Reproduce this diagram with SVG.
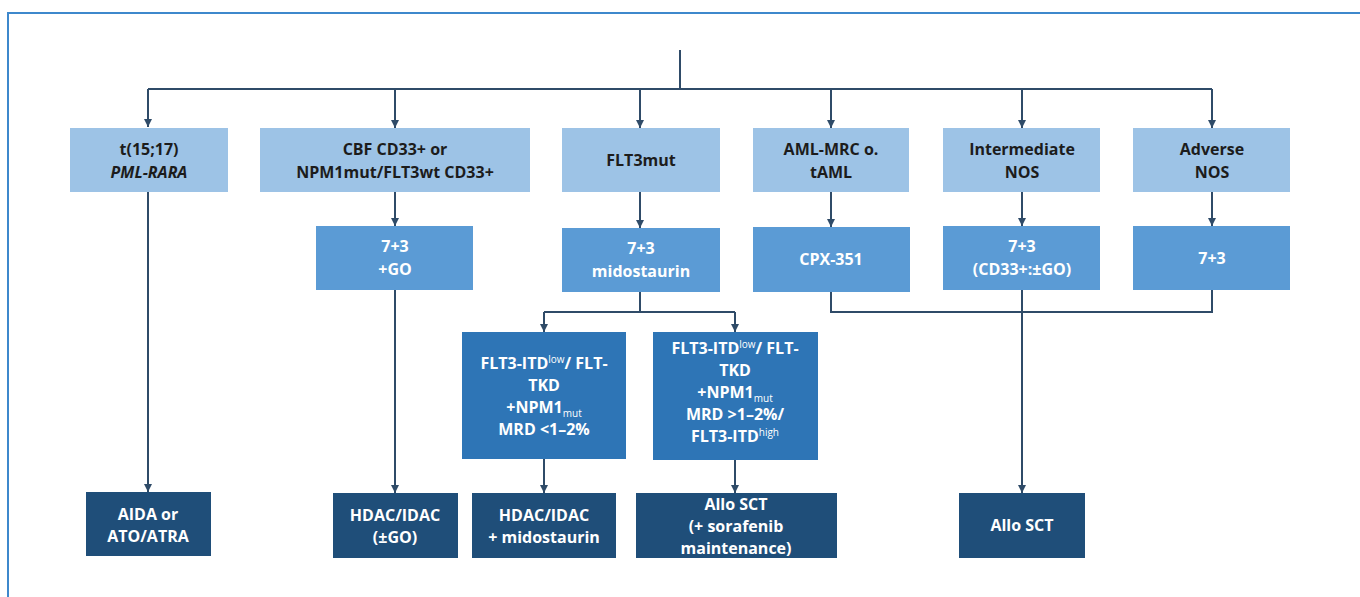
<svg xmlns="http://www.w3.org/2000/svg" width="1360" height="597" viewBox="0 0 1360 597">
<style>
.t{font-family:"Open Sans","Liberation Sans",sans-serif;font-weight:700;font-size:16px;text-anchor:middle}
.dk{fill:#1c1c1c}
.wh{fill:#ffffff}
.b1{fill:#9DC3E6}
.b2{fill:#5B9BD5}
.b3{fill:#2E75B6}
.b4{fill:#1F4E79}
.ln{fill:none;stroke:#2F4B68;stroke-width:2}
.sup{font-size:10px;font-weight:400}
</style>
<defs>
<marker id="ah" viewBox="0 0 10 10" refX="10" refY="5" markerWidth="8" markerHeight="9" markerUnits="userSpaceOnUse" orient="auto">
<path d="M0,0 L10,5 L0,10 z" fill="#2F4B68"/>
</marker>
</defs>
<rect x="0" y="0" width="1360" height="597" fill="#ffffff"/>
<path d="M8,597 V13 H1360" fill="none" stroke="#3E88CC" stroke-width="2"/>

<g id="connectors">
<path class="ln" d="M680,50 V89"/>
<path class="ln" d="M148,89 H1212"/>
<path class="ln" d="M148,89 V127" marker-end="url(#ah)"/>
<path class="ln" d="M395,89 V128" marker-end="url(#ah)"/>
<path class="ln" d="M640,89 V128" marker-end="url(#ah)"/>
<path class="ln" d="M831,89 V128" marker-end="url(#ah)"/>
<path class="ln" d="M1022,89 V128" marker-end="url(#ah)"/>
<path class="ln" d="M1212,89 V128" marker-end="url(#ah)"/>
<path class="ln" d="M148,192 V492" marker-end="url(#ah)"/>
<path class="ln" d="M395,192 V226" marker-end="url(#ah)"/>
<path class="ln" d="M395,290 V493" marker-end="url(#ah)"/>
<path class="ln" d="M640,192 V228" marker-end="url(#ah)"/>
<path class="ln" d="M640,292 V312"/>
<path class="ln" d="M544,312 H735"/>
<path class="ln" d="M544,312 V332" marker-end="url(#ah)"/>
<path class="ln" d="M735,312 V332" marker-end="url(#ah)"/>
<path class="ln" d="M831,192 V227" marker-end="url(#ah)"/>
<path class="ln" d="M1022,192 V226" marker-end="url(#ah)"/>
<path class="ln" d="M1212,192 V226" marker-end="url(#ah)"/>
<path class="ln" d="M831,292 V312 H1212 V290"/>
<path class="ln" d="M1022,290 V493" marker-end="url(#ah)"/>
<path class="ln" d="M544,459 V493" marker-end="url(#ah)"/>
<path class="ln" d="M735,460 V493" marker-end="url(#ah)"/>
</g>

<g id="n-t1517">
<rect class="b1" x="70" y="128" width="158" height="64"/>
<text class="t dk" x="149" y="155">t(15;17)</text>
<text class="t dk" x="149" y="178" font-style="italic">PML-RARA</text>
</g>
<g id="n-cbf">
<rect class="b1" x="260" y="128" width="270" height="64"/>
<text class="t dk" x="395" y="155">CBF CD33+ or</text>
<text class="t dk" x="395" y="178">NPM1mut/FLT3wt CD33+</text>
</g>
<g id="n-flt3mut">
<rect class="b1" x="562" y="128" width="158" height="64"/>
<text class="t dk" x="641" y="166">FLT3mut</text>
</g>
<g id="n-amlmrc">
<rect class="b1" x="753" y="128" width="156" height="64"/>
<text class="t dk" x="831" y="155">AML-MRC o.</text>
<text class="t dk" x="831" y="178">tAML</text>
</g>
<g id="n-intermediate">
<rect class="b1" x="943" y="128" width="157" height="64"/>
<text class="t dk" x="1022" y="155">Intermediate</text>
<text class="t dk" x="1022" y="178">NOS</text>
</g>
<g id="n-adverse">
<rect class="b1" x="1133" y="128" width="157" height="64"/>
<text class="t dk" x="1212" y="155">Adverse</text>
<text class="t dk" x="1212" y="178">NOS</text>
</g>

<g id="n-73go">
<rect class="b2" x="316" y="226" width="157" height="64"/>
<text class="t wh" x="395" y="252">7+3</text>
<text class="t wh" x="395" y="275">+GO</text>
</g>
<g id="n-73mido">
<rect class="b2" x="562" y="228" width="158" height="64"/>
<text class="t wh" x="641" y="254">7+3</text>
<text class="t wh" x="641" y="277">midostaurin</text>
</g>
<g id="n-cpx">
<rect class="b2" x="753" y="227" width="157" height="65"/>
<text class="t wh" x="831" y="265">CPX-351</text>
</g>
<g id="n-73cd33">
<rect class="b2" x="943" y="226" width="157" height="64"/>
<text class="t wh" x="1022" y="252">7+3</text>
<text class="t wh" x="1022" y="275">(CD33+:±GO)</text>
</g>
<g id="n-73adv">
<rect class="b2" x="1133" y="226" width="157" height="64"/>
<text class="t wh" x="1212" y="264">7+3</text>
</g>

<g id="n-flt3low">
<rect class="b3" x="462" y="332" width="164" height="127"/>
<text class="t wh" x="544" y="369">FLT3-ITD<tspan class="sup" dy="-6">low</tspan><tspan dy="6">/ FLT-</tspan></text>
<text class="t wh" x="544" y="391">TKD</text>
<text class="t wh" x="544" y="413">+NPM1<tspan class="sup" dy="4">mut</tspan></text>
<text class="t wh" x="544" y="435">MRD &lt;1–2%</text>
</g>
<g id="n-flt3high">
<rect class="b3" x="653" y="332" width="165" height="128"/>
<text class="t wh" x="735" y="354">FLT3-ITD<tspan class="sup" dy="-6">low</tspan><tspan dy="6">/ FLT-</tspan></text>
<text class="t wh" x="735" y="376">TKD</text>
<text class="t wh" x="735" y="398">+NPM1<tspan class="sup" dy="4">mut</tspan></text>
<text class="t wh" x="735" y="420">MRD &gt;1–2%/</text>
<text class="t wh" x="735" y="442">FLT3-ITD<tspan class="sup" dy="-6">high</tspan></text>
</g>

<g id="n-aida">
<rect class="b4" x="86" y="492" width="125" height="64"/>
<text class="t wh" x="148" y="520">AIDA or</text>
<text class="t wh" x="148" y="542">ATO/ATRA</text>
</g>
<g id="n-hdacgo">
<rect class="b4" x="333" y="493" width="125" height="65"/>
<text class="t wh" x="395" y="521">HDAC/IDAC</text>
<text class="t wh" x="395" y="543">(±GO)</text>
</g>
<g id="n-hdacmido">
<rect class="b4" x="472" y="493" width="144" height="65"/>
<text class="t wh" x="544" y="521">HDAC/IDAC</text>
<text class="t wh" x="544" y="543">+ midostaurin</text>
</g>
<g id="n-allosor">
<rect class="b4" x="636" y="493" width="201" height="65"/>
<text class="t wh" x="736" y="510">Allo SCT</text>
<text class="t wh" x="736" y="532">(+ sorafenib</text>
<text class="t wh" x="736" y="554">maintenance)</text>
</g>
<g id="n-allo">
<rect class="b4" x="959" y="493" width="126" height="65"/>
<text class="t wh" x="1022" y="531">Allo SCT</text>
</g>
</svg>
